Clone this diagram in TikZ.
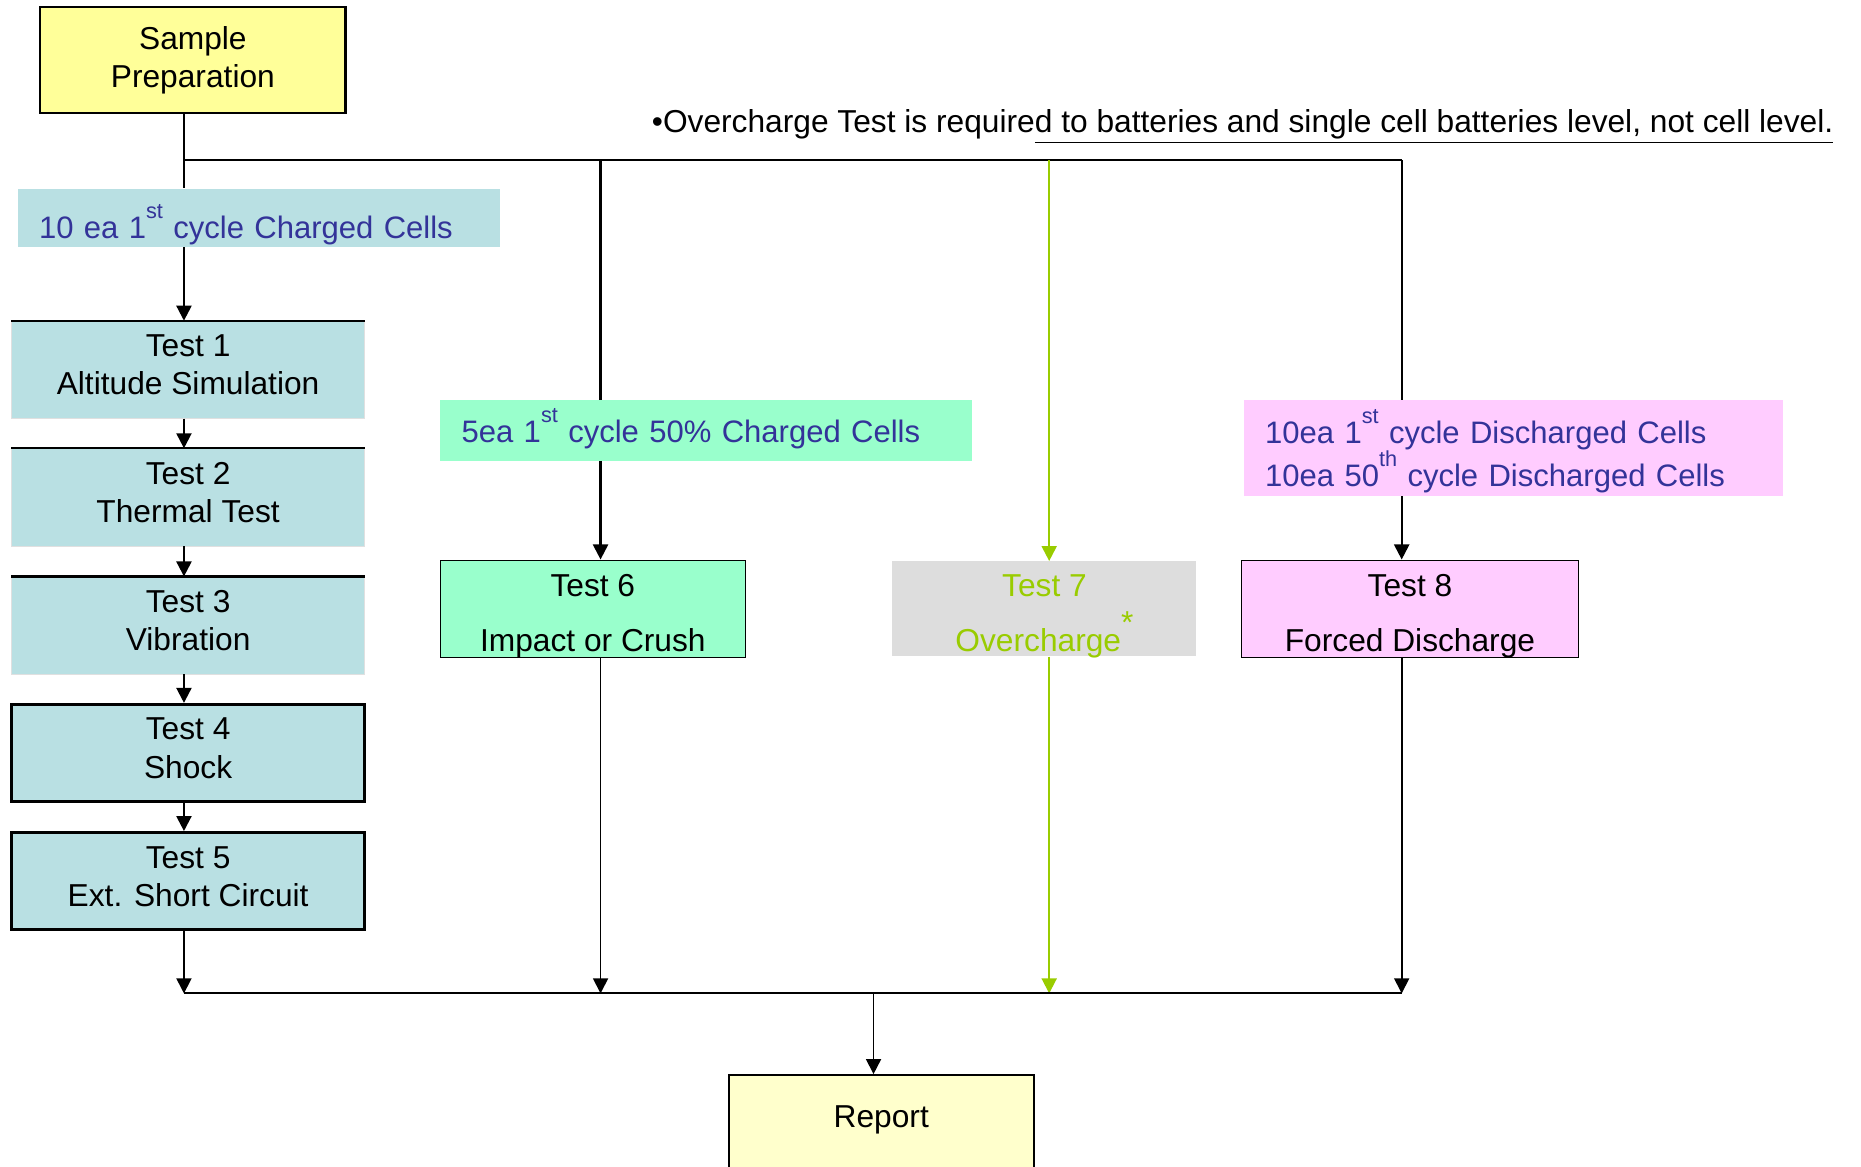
\documentclass[tikz,border=0pt]{standalone}
\usepackage{fontspec}
\setmainfont{Liberation Sans}
\usetikzlibrary{arrows.meta}

\definecolor{sampyel}{HTML}{FFFF99}
\definecolor{repyel}{HTML}{FFFFCC}
\definecolor{cellblue}{HTML}{B9E0E3}
\definecolor{cellgreen}{HTML}{99FFCC}
\definecolor{cellpink}{HTML}{FFCCFF}
\definecolor{sevgray}{HTML}{DDDDDD}
\definecolor{txtblue}{HTML}{333399}
\definecolor{ovgreen}{HTML}{99CC00}

\newcommand{\sups}[1]{\raisebox{12pt}[0pt][0pt]{\fontsize{13}{13}\selectfont #1}}
\newcommand{\movetext}[3][c]{\raisebox{#2}[\height][\depth]{\begin{tabular}{@{}#1@{}}#3\end{tabular}}}

\tikzset{
  ln/.style={line width=1.3pt},
  arr/.style={line width=1.3pt,-{Triangle[width=9pt,length=9pt]}},
  thinarr/.style={line width=1pt,-{Triangle[width=9pt,length=9pt]}},
  garr/.style={line width=1.2pt,draw=ovgreen,-{Triangle[width=9pt,length=9pt,fill=ovgreen]}},
  testbox/.style={fill=cellblue,minimum width=7.425cm,minimum height=2.05cm,inner sep=0pt},
  sidebox/.style={minimum width=6.425cm,minimum height=2.05cm,inner sep=0pt},
  labbox/.style={inner xsep=0.45cm,inner ysep=0pt,align=left,text=txtblue,font=\fontsize{18.6}{23}\selectfont}
}

\begin{document}
\begin{tikzpicture}[x=0.025cm,y=-0.025cm,font=\fontsize{19}{23}\selectfont]
\useasboundingbox (0,0) rectangle (1568,983);

\node[draw,line width=1.3pt,fill=sampyel,minimum width=6.425cm,minimum height=2.225cm,inner sep=0pt] (sp) at (162.5,50.5) {\movetext{-0.5pt}{Sample\\Preparation}};
\node[anchor=base west,inner sep=0pt] (note) at (549,112) {\textbullet Overcharge Test is require\underline{d to batteries and single cell batteries level, not cell level.}};

% branch points
\coordinate (c1) at (155,135);
\coordinate (c2) at (506,135);
\coordinate (c3) at (884,135);
\coordinate (c4) at (1181,135);
\coordinate (d1) at (155,837);
\coordinate (d2) at (506,837);
\coordinate (d3) at (884,837);
\coordinate (d4) at (1181,837);
\coordinate (dr) at (736,837);

% left column
\node[labbox,fill=cellblue,text width=9.25cm,minimum height=1.225cm] (lab1) at (218,183.5) {\movetext[l]{-7.8pt}{10 ea 1\sups{st} cycle Charged Cells}};
\foreach \n/\y/\txt in {1/311.5/Altitude Simulation,2/419/Thermal Test,3/527/Vibration}
{
\node[testbox,draw=black!12] (t\n) at (158.5,\y) {\movetext{1pt}{Test \n\\\txt}};
\draw[ln] (t\n.north west) -- (t\n.north east);
}
\node[testbox,draw,line width=1.8pt] (t4) at (158.5,634.5) {\movetext{1pt}{Test 4\\Shock}};
\node[testbox,draw,line width=1.8pt] (t5) at (158.5,742.5) {\movetext{1pt}{Test 5\\Ext. Short Circuit}};

% other columns
\node[labbox,fill=cellgreen,text width=10.3cm,minimum height=1.275cm] (lab2) at (595,362.5) {\movetext[l]{-3pt}{5ea 1\sups{st} cycle 50\% Charged Cells}};
\node[labbox,fill=cellpink,text width=10.45cm,minimum height=2.025cm] (lab3) at (1275,377.5) {\movetext[l]{-5.7pt}{10ea 1\sups{st} cycle Discharged Cells\\[3pt]10ea 50\sups{th} cycle Discharged Cells}};

\node[sidebox,fill=cellgreen,draw,line width=0.8pt] (t6) at (499.5,513) {\movetext{-4.6pt}{Test 6\\[10pt]Impact or Crush}};
\node[sidebox,fill=sevgray,text=ovgreen,minimum width=6.4cm,minimum height=2cm] (t7) at (880,513) {\movetext{-4.6pt}{Test 7\\[10pt]Overcharge\raisebox{11pt}[0pt][0pt]{*}}};
\node[sidebox,fill=cellpink,draw,line width=0.8pt,minimum width=7.1cm] (t8) at (1188,513) {\movetext{-4.6pt}{Test 8\\[10pt]Forced Discharge}};

\node[draw,line width=1.3pt,fill=repyel,anchor=north,minimum width=6.425cm,inner ysep=0pt,text height=1.1cm,text depth=2.5cm] (rep) at (742.5,905) {Report};

% connectors
\draw[ln] (c1 |- sp.south) -- (c1 |- lab1.north);
\draw[ln] (c1) -- (c4);
\draw[arr] (c1 |- lab1.south) -- (c1 |- t1.north);
\foreach \a/\b in {t1/t2,t2/t3,t3/t4,t4/t5}
  \draw[arr] (c1 |- \a.south) -- (c1 |- \b.north);
\draw[thinarr] (c1 |- t5.south) -- (d1);

\draw[ln] (c2) -- (c2 |- lab2.north);
\draw[arr] (c2 |- lab2.south) -- (c2 |- t6.north);
\draw[thinarr] (c2 |- t6.south) -- (d2);

\draw[garr] (c3) -- (c3 |- t7.north);
\draw[garr] (c3 |- t7.south) -- (d3);

\draw[ln] (c4) -- (c4 |- lab3.north);
\draw[arr] (c4 |- lab3.south) -- (c4 |- t8.north);
\draw[thinarr] (c4 |- t8.south) -- (d4);

\draw[ln] (d1) -- (d4);
\draw[thinarr] (dr) -- (dr |- rep.north);

\end{tikzpicture}
\end{document}
